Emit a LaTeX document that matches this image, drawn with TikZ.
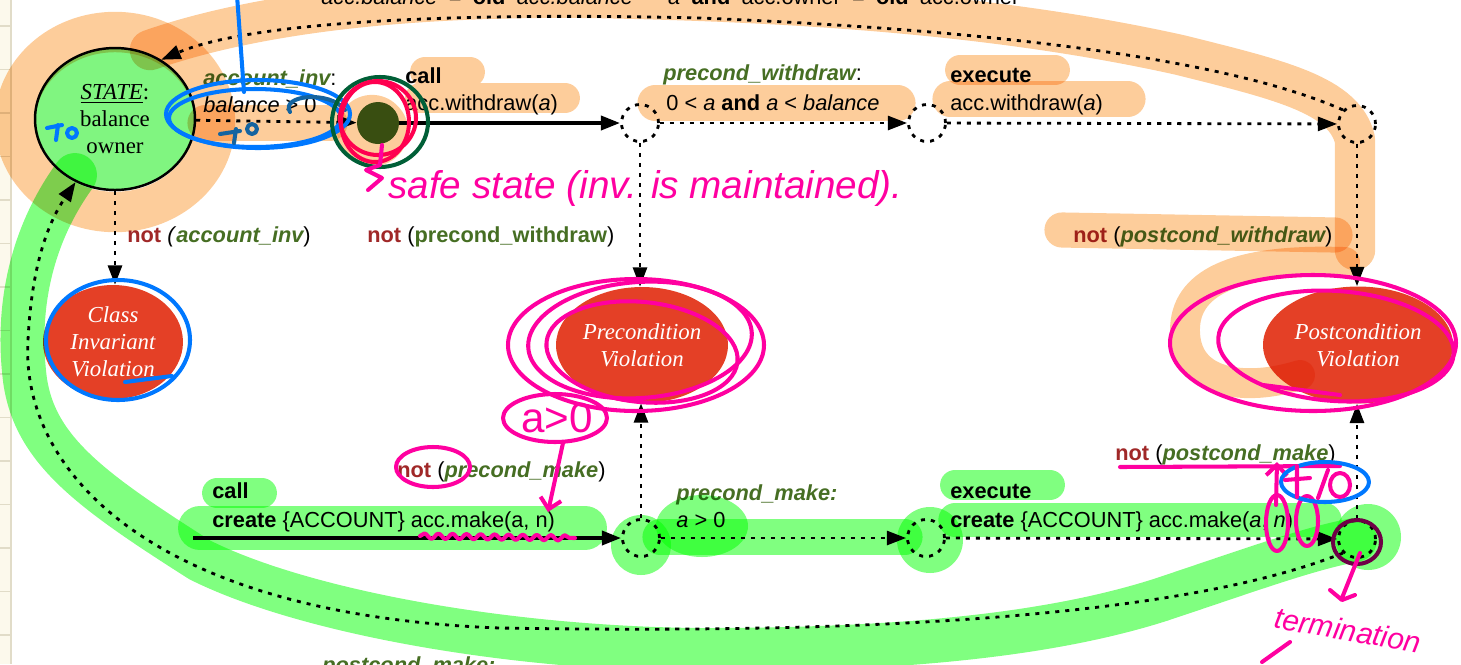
\documentclass[tikz,border=0pt]{standalone}
\usepackage{fontspec}
\setmainfont{Liberation Serif}
\setsansfont{Liberation Sans}
\usepackage{tikz}
\usetikzlibrary{arrows.meta, positioning, shapes.geometric, decorations.pathmorphing}
\usepackage{xcolor}
\definecolor{condgreen}{RGB}{70,110,35}
\definecolor{notred}{RGB}{160,40,40}
\definecolor{violred}{RGB}{228,64,38}
\definecolor{safegreen}{RGB}{58,98,28}
\definecolor{statefill}{RGB}{128,245,128}
\definecolor{hlorange}{RGB}{253,205,155}
\definecolor{hlgreen}{RGB}{128,255,128}
\definecolor{penpink}{RGB}{255,0,160}
\definecolor{penred}{RGB}{255,0,80}
\definecolor{penblue}{RGB}{0,120,255}
\definecolor{pendkblue}{RGB}{20,100,160}
\definecolor{pendkgreen}{RGB}{0,95,55}
\definecolor{penpurple}{RGB}{110,0,70}
\definecolor{paper}{RGB}{252,249,236}
\definecolor{gridline}{RGB}{225,220,200}
\newcommand{\condtxt}[1]{\textcolor{condgreen}{\bfseries\itshape #1}}
\newcommand{\condup}[1]{\textcolor{condgreen}{\bfseries #1}}
\newcommand{\nottxt}{\textcolor{notred}{\bfseries not}}

\begin{document}
\begin{tikzpicture}[x=0.02cm, y=-0.02cm,
    font=\sffamily\fontsize{12.4}{15.9}\selectfont,
    flow/.style={-{Triangle[length=11pt,width=8pt]}, line width=1.6pt,
                 dash pattern=on 2.3pt off 3.4pt},
    callflow/.style={-{Triangle[length=11pt,width=8pt]}, line width=2.2pt},
    junction/.style={circle, draw, line width=1.6pt, dash pattern=on 2.3pt off 3.4pt,
                     minimum size=0.74cm, inner sep=0pt},
    safedot/.style={circle, fill=safegreen, minimum size=0.84cm, inner sep=0pt},
    statenode/.style={ellipse, draw, line width=1.4pt, fill=statefill,
                      minimum width=3.2cm, minimum height=2.84cm, align=center,
                      font=\rmfamily\fontsize{13}{15.3}\selectfont},
    violation/.style={ellipse, fill=violred, text=white, align=center, inner sep=0pt,
                      font=\rmfamily\itshape\fontsize{13}{15.3}\selectfont},
    lbl/.style={anchor=base west, inner sep=0pt},
    hlor/.style={draw=hlorange, line width=#1, line cap=round, line join=round},
    hlgr/.style={draw=hlgreen, line width=#1, line cap=round, line join=round},
    pen/.style={line width=2.3pt, line cap=round, line join=round},
    hand/.style={penpink, inner sep=0pt, font=\sffamily\itshape\fontsize{22}{22}\selectfont}]
  \useasboundingbox (0,0) rectangle (1461,664);
  % paper edge
  \fill[paper] (0,0) rectangle (11,664);
  \draw[gridline, line width=0.6pt] (11,0) -- (11,664);
  \foreach \gy in {0,...,14}
    \draw[gridline, line width=0.6pt] (0,26+43.5*\gy) -- (11,26+43.5*\gy);

  % states and junctions
  \node[statenode] (state) at (115,119) {\underline{\textit{STATE}}:\\balance\\owner};
  \node[safedot] (safe) at (378,123) {};
  \node[junction] (w1) at (640,123) {};
  \node[junction] (w2) at (927,123) {};
  \node[junction] (w3) at (1357,124) {};
  \node[junction] (m1) at (641,538) {};
  \node[junction] (m2) at (926,538) {};
  \node[junction] (m3) at (1357,539) {};
  \coordinate (mstart) at (193,538);
  \node[violation, minimum width=2.8cm, minimum height=2.28cm] (civ) at (113,342)
    {Class\\Invariant\\Violation};
  \node[violation, minimum width=3.44cm, minimum height=2.32cm] (prev) at (642,345)
    {Precondition\\Violation};
  \node[violation, minimum width=3.8cm, minimum height=2.34cm] (postv) at (1358,345)
    {Postcondition\\Violation};

  % withdraw row
  \draw[flow] (state) -- (safe);
  \draw[callflow] (safe) -- (w1);
  \draw[flow] (w1) -- (w2);
  \draw[flow] (w2) -- (w3);
  \draw[flow] (w3) -- (w3 |- postv.north);
  \draw[flow] (w1) -- (w1 |- prev.north);
  \draw[flow] (state) -- (state |- civ.north);
  \draw[flow] (w3.135) .. controls (1230,60) and (1000,30) .. (700,18)
                       .. controls (450,12) and (250,22) .. (state.52);
  % make row
  \draw[callflow] (mstart) -- (m1);
  \draw[flow] (m1) -- (m2);
  \draw[flow] (m2) -- (m3);
  \draw[flow] (m1) -- (m1 |- prev.south);
  \draw[flow] (m3) -- (m3 |- postv.south);
  \draw[flow] (m3.225) .. controls (1150,630) and (750,632) .. (500,628)
                       .. controls (150,615) and (20,470) .. (28,340)
                       .. controls (32,260) and (50,220) .. (state.238);

  % labels
  \node[lbl] (invlbl) at (203,85) {\condtxt{account\_inv}:};
  \node[lbl] (invexp) at (203,112) {\textit{balance} > 0};
  \node[lbl] (callw) at (405,83) {\textbf{call}};
  \node[lbl] (callwop) at (405,110) {acc.withdraw(\textit{a})};
  \node[lbl] (prewlbl) at (663,80) {\condtxt{precond\_withdraw}:};
  \node[lbl] (prewexp) at (666,110) {0 < \textit{a} \textbf{and} \textit{a} < \textit{balance}};
  \node[lbl] (execw) at (950,82) {\textbf{execute}};
  \node[lbl] (execwop) at (950,110) {acc.withdraw(\textit{a})};
  \node[lbl] (postwexp) at (321,4) {\spaceskip=6.4pt\relax\textit{acc.balance} = \textbf{old}
    \textit{acc.balance} − \textit{a} \textbf{and} acc.owner = \textbf{old} acc.owner};
  \node[lbl] (notinv) at (127,242) {\nottxt{} \textit{(}\condtxt{account\_inv})};
  \node[lbl] (notprew) at (367,242) {\nottxt{} (\condup{precond\_withdraw})};
  \node[lbl] (notpostw) at (1073,242) {\nottxt{} (\condtxt{postcond\_withdraw})};
  \node[lbl] (callm) at (212,498) {\textbf{call}};
  \node[lbl] (callmop) at (212,527) {\textbf{create} \{ACCOUNT\} acc.make(a, n)};
  \node[lbl] (notprem) at (397,477) {\nottxt{} (\condtxt{precond\_make})};
  \node[lbl] (premlbl) at (676,500) {\condtxt{precond\_make:}};
  \node[lbl] (premexp) at (676,527) {\textit{a} > 0};
  \node[lbl] (execm) at (950,498) {\textbf{execute}};
  \node[lbl] (execmop) at (950,527) {\textbf{create} \{ACCOUNT\} acc.make(\textit{a}, \textit{n})};
  \node[lbl] (notpostm) at (1115,460) {\nottxt{} (\condtxt{postcond\_make})};
  \node[lbl] (postmlbl) at (322,672) {\condtxt{postcond\_make:}};

  % highlighter
  \begin{scope}[blend mode=multiply]
    \draw[hlor=23pt] (115,122) ellipse [x radius=100, y radius=90];
    \draw[hlor=23pt] (1355,250) -- (1355,140) .. controls (1345,95) and (1280,80) .. (1180,55)
      .. controls (1000,15) and (800,2) .. (600,-2) .. controls (400,-5) and (250,15) .. (150,50);
    \draw[hlor=20pt] (205,123) -- (330,123);
    \draw[hlor=40pt] (372,130) -- (373,131);
    \draw[hlor=17pt] (425,72) -- (470,72) (420,98) -- (565,98);
    \draw[hlor=20pt] (655,103) -- (898,103);
    \draw[hlor=17pt] (960,70) -- (1055,70);
    \draw[hlor=20pt] (950,99) -- (1128,99);
    \draw[hlor=20pt] (1062,230) -- (1335,235);
    \draw[hlor=17pt] (1345,262) .. controls (1230,258) and (1185,285) .. (1185,330)
      .. controls (1185,385) and (1245,392) .. (1300,375);
    \draw[hlgr=25pt] (75,175) .. controls (35,230) and (15,300) .. (25,380)
      .. controls (35,450) and (90,490) .. (200,560) .. controls (300,610) and (500,648) .. (700,650)
      .. controls (900,650) and (1050,635) .. (1160,600) .. controls (1250,570) and (1310,548) .. (1355,540);
    \draw[hlgr=25pt] (200,528) -- (585,528);
    \draw[hlgr=20pt] (660,537) -- (905,537);
    \draw[hlgr=19pt] (955,520) -- (1325,520);
    \draw[hlgr=17pt] (217,493) -- (262,493);
    \draw[hlgr=17pt] (955,485) -- (1050,485);
    \fill[hlgreen] (641,545) circle (30);
    \fill[hlgreen] (930,540) circle (33);
    \fill[hlgreen] (1368,537) circle (33);
    \fill[hlgreen] (702,526) ellipse [x radius=46, y radius=31];
  \end{scope}

  % pen notes
  \draw[pen, penblue] (237,-5) -- (244,92);
  \draw[pen, penblue] (258,114) ellipse [x radius=92, y radius=34];
  \draw[pen, penblue] (255,118) ellipse [x radius=86, y radius=29];
  \draw[pen, pendkblue] (290,112) .. controls (280,95) and (330,90) .. (345,110);
  \draw[pen, penblue] (47,128) -- (62,125) (58,125) -- (56,140);
  \draw[pen, penblue] (72,133) circle (5);
  \draw[pen, pendkblue] (220,134) -- (240,131) (236,129) -- (234,143);
  \draw[pen, pendkblue] (252,129) circle (5);
  \draw[pen, penblue] (118,340) ellipse [x radius=72, y radius=60];
  \draw[pen, penblue] (125,382) -- (172,376);
  \draw[pen, pendkgreen] (380,122) ellipse [x radius=48, y radius=45];
  \draw[pen, penred] (378,118) ellipse [x radius=38, y radius=37];
  \draw[pen, penred] (375,122) ellipse [x radius=34, y radius=40];
  \draw[pen, penpink] (382,145) -- (380,165) -- (366,170) -- (382,178) -- (368,190);
  \node[hand, anchor=base west] (safenote) at (388,198) {safe state (inv. is maintained).};
  \draw[pen, penpink] (636,345) ellipse [x radius=128, y radius=66];
  \draw[pen, penpink, rotate around={4:(640,340)}] (640,340) ellipse [x radius=112, y radius=58];
  \draw[pen, penpink, rotate around={-6:(642,352)}] (642,352) ellipse [x radius=96, y radius=50];
  \draw[pen, penpink] (555,418) ellipse [x radius=52, y radius=24];
  \node[hand, font=\sffamily\fontsize{24}{24}\selectfont] (anote) at (557,418) {a>0};
  \draw[pen, penpink, -{Straight Barb[length=6pt]}] (563,443) -- (548,512);
  \draw[pen, penpink, decorate, decoration={snake, amplitude=1.5pt, segment length=8pt}]
    (420,536) -- (575,538);
  \draw[pen, penpink] (433,467) ellipse [x radius=37, y radius=20];
  \draw[pen, penpink] (1313,343) ellipse [x radius=143, y radius=68];
  \draw[pen, penpink, rotate around={-4:(1336,346)}] (1336,346) ellipse [x radius=118, y radius=55];
  \draw[pen, penpink] (1263,385) -- (1340,395);
  \draw[pen, penpink] (1120,467) -- (1340,466);
  \draw[pen, penpink, -{Straight Barb[length=6pt]}] (1276,505) -- (1277,462);
  \draw[pen, penpink] (1277,523) ellipse [x radius=11, y radius=28];
  \draw[pen, penpink] (1307,521) ellipse [x radius=11, y radius=25];
  \draw[pen, penblue] (1325,482) ellipse [x radius=44, y radius=20];
  \draw[pen, penpink] (1297,466) -- (1297,497) (1285,480) -- (1310,478) (1318,498) -- (1328,470);
  \draw[pen, penpink] (1340,485) ellipse [x radius=10, y radius=12];
  \draw[pen, penpurple] (1357,542) ellipse [x radius=24, y radius=22];
  \draw[pen, penpink] (1360,553) -- (1342,598) (1330,590) -- (1342,600) -- (1355,595);
  \node[hand, rotate=-10, font=\sffamily\itshape\fontsize{17}{17}\selectfont] (termnote) at (1348,630) {termination};
  \draw[pen, penpink] (1262,662) -- (1290,642);
\end{tikzpicture}
\end{document}
